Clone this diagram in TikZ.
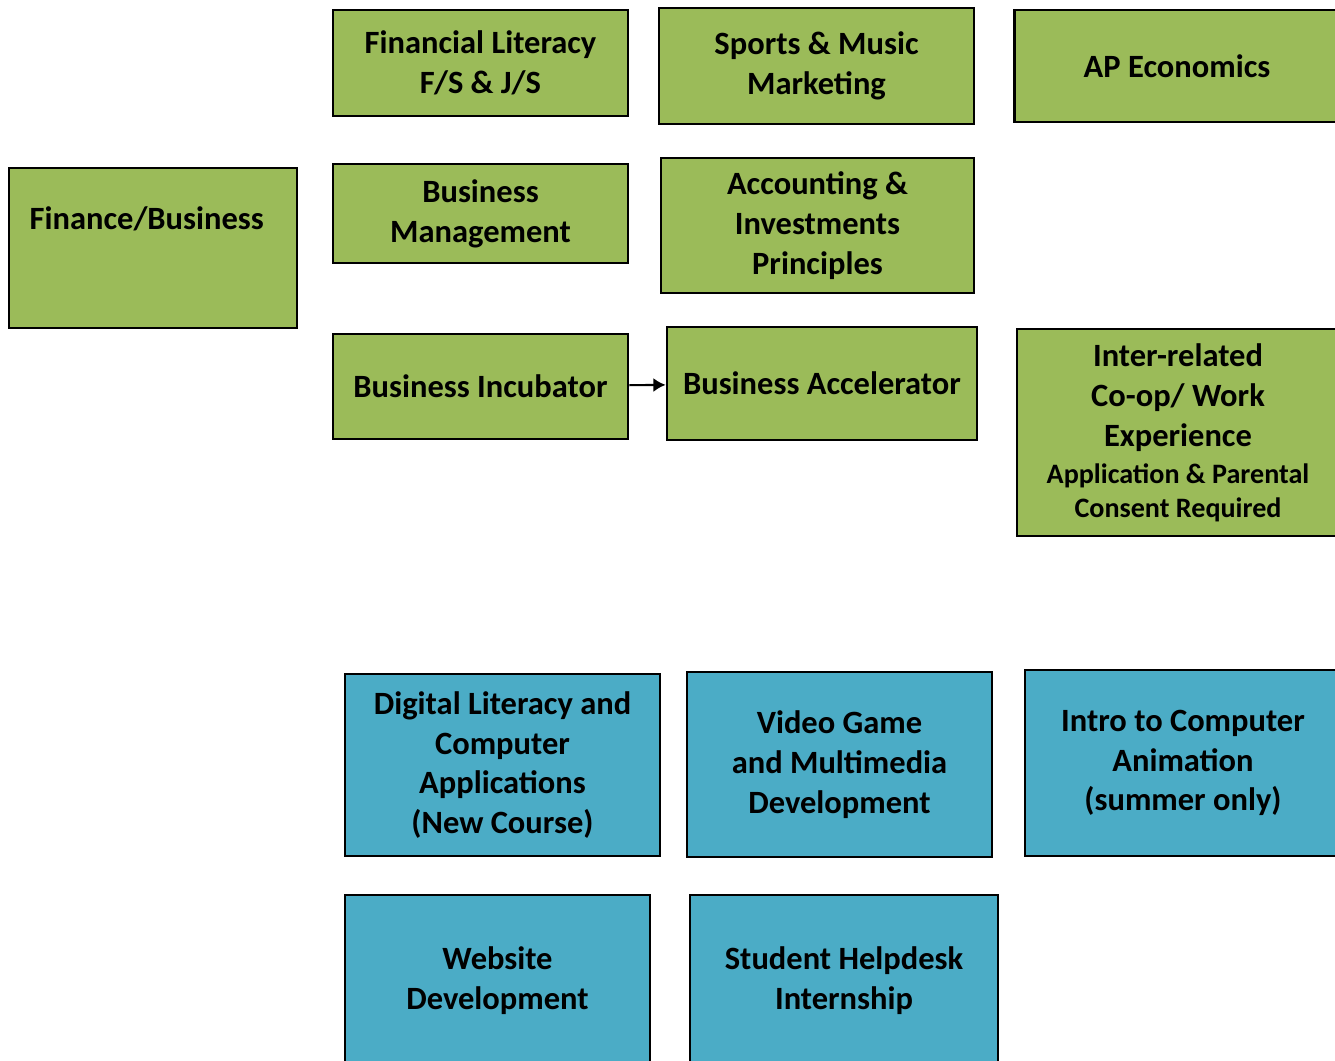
\documentclass[tikz,border=0pt]{standalone}
\usepackage{fontspec}
\setmainfont{Carlito}
\usepackage{tikz}
\usetikzlibrary{arrows,arrows.meta}
\definecolor{boxgreen}{RGB}{155,187,89}
\definecolor{boxblue}{RGB}{75,172,198}
\tikzstyle{course}=[rectangle,draw=black,line width=1.6pt,align=center,
font=\bfseries\fontsize{18.5}{22.7}\selectfont,inner sep=2pt]
\tikzstyle{fincourse}=[course,fill=boxgreen]
\tikzstyle{techcourse}=[course,fill=boxblue]
\tikzstyle{arrow}=[line width=1.2pt,-{Latex[length=7pt,width=8pt]}]
\newcommand{\smallline}{\fontsize{16}{22.7}\selectfont}

\begin{document}
\begin{tikzpicture}[x=0.02cm,y=-0.02cm]
        \useasboundingbox (0,0) rectangle (1335,1061);
        \clip (0,0) rectangle (1335,1061);
        \node (fin) [fincourse,minimum width=5.76cm,minimum height=3.2cm,text height=0.45cm,text depth=1.21cm] at (153,248) {Finance/Business\hspace{0.25cm}};
        \node (finlit) [fincourse,minimum width=5.9cm,minimum height=2.12cm] at (480.5,63) {Financial Literacy\\F/S \& J/S};
        \node (sports) [fincourse,minimum width=6.3cm,minimum height=2.32cm] at (816.5,66) {Sports \& Music\\Marketing};
        \node (apecon) [fincourse,minimum width=6.5cm,minimum height=2.24cm] at (1177,66) {AP Economics};
        \node (bman) [fincourse,minimum width=5.9cm,minimum height=1.98cm] at (480.5,213.5) {Business\\Management};
        \node (acct) [fincourse,minimum width=6.26cm,minimum height=2.7cm] at (817.5,225.5) {Accounting \&\\Investments\\Principles};
        \node (incub) [fincourse,minimum width=5.9cm,minimum height=2.1cm] at (480.5,386.5) {Business Incubator};
        \node (accel) [fincourse,minimum width=6.2cm,minimum height=2.26cm] at (822,383.5) {Business Accelerator};
        \node (coop) [fincourse,minimum width=6.44cm,minimum height=4.14cm] at (1178,432.5) {Inter-related\\Co-op/ Work\\Experience\\[-1.5pt]{\smallline Application \& Parental}\\[-3.5pt]{\smallline Consent Required}};

        \node (digit) [techcourse,minimum width=6.3cm,minimum height=3.64cm] at (502.5,765) {Digital Literacy and\\Computer\\Applications\\(New Course)};
        \node (video) [techcourse,minimum width=6.1cm,minimum height=3.7cm] at (839.5,764.5) {Video Game\\and Multimedia\\Development};
        \node (anim) [techcourse,minimum width=6.32cm,minimum height=3.72cm] at (1183,763) {Intro to Computer\\Animation\\(summer only)};
        \node (web) [techcourse,minimum width=6.1cm,minimum height=3.44cm] at (497.5,981) {Website\\Development};
        \node (help) [techcourse,minimum width=6.16cm,minimum height=3.44cm] at (844,981) {Student Helpdesk\\Internship};

        \draw [arrow] (incub) -- (accel);
\end{tikzpicture}
\end{document}
